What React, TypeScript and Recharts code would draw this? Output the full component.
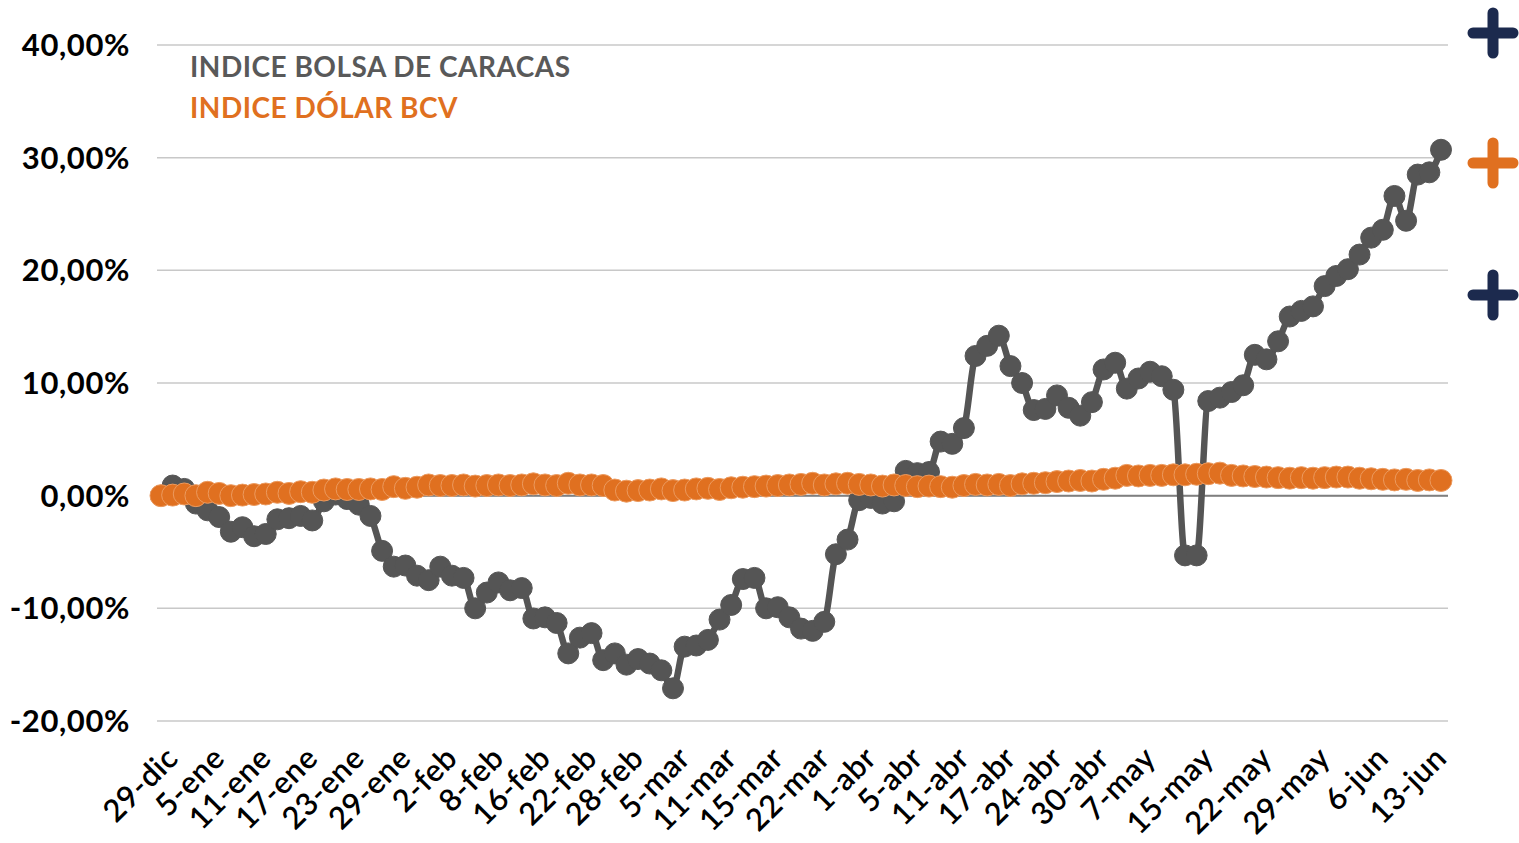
import React from 'react';
import { LineChart, Line, XAxis, YAxis, CartesianGrid, ReferenceLine } from 'recharts';

const dates = [
  '29-dic',
  '2-ene', '3-ene', '4-ene', '5-ene',
  '8-ene', '9-ene', '10-ene', '11-ene',
  '12-ene', '15-ene', '16-ene', '17-ene',
  '18-ene', '19-ene', '22-ene', '23-ene',
  '24-ene', '25-ene', '26-ene', '29-ene',
  '30-ene', '31-ene', '1-feb', '2-feb',
  '5-feb', '6-feb', '7-feb', '8-feb',
  '9-feb', '14-feb', '15-feb', '16-feb',
  '19-feb', '20-feb', '21-feb', '22-feb',
  '23-feb', '26-feb', '27-feb', '28-feb',
  '29-feb', '1-mar', '4-mar', '5-mar',
  '6-mar', '7-mar', '8-mar', '11-mar',
  '12-mar', '13-mar', '14-mar', '15-mar',
  '18-mar', '20-mar', '21-mar', '22-mar',
  '25-mar', '26-mar', '27-mar', '1-abr',
  '2-abr', '3-abr', '4-abr', '5-abr',
  '8-abr', '9-abr', '10-abr', '11-abr',
  '12-abr', '15-abr', '16-abr', '17-abr',
  '18-abr', '22-abr', '23-abr', '24-abr',
  '25-abr', '26-abr', '29-abr', '30-abr',
  '2-may', '3-may', '6-may', '7-may',
  '8-may', '9-may', '10-may', '14-may', '15-may',
  '16-may', '17-may', '20-may', '21-may', '22-may',
  '23-may', '24-may', '27-may', '28-may', '29-may',
  '30-may', '31-may', '4-jun', '5-jun', '6-jun',
  '7-jun', '10-jun', '11-jun', '12-jun', '13-jun',
  '14-jun',
];

const shownLabels = [
  '29-dic', '5-ene', '11-ene', '17-ene', '23-ene', '29-ene', '2-feb', '8-feb', '16-feb',
  '22-feb', '28-feb', '5-mar', '11-mar', '15-mar', '22-mar', '1-abr', '5-abr', '11-abr',
  '17-abr', '24-abr', '30-abr', '7-may', '15-may', '22-may', '29-may', '6-jun', '13-jun',
];

const bolsa = [
  0, 0.9, 0.6, -0.7, -1.3, -1.9, -3.2, -2.8, -3.6, -3.4,
  -2.1, -2.0, -1.8, -2.2, -0.5, 0.1, -0.3, -0.8, -1.8, -4.9,
  -6.3, -6.2, -7.1, -7.5, -6.3, -7.1, -7.3, -10.0, -8.6, -7.7,
  -8.4, -8.2, -10.9, -10.8, -11.3, -14.0, -12.6, -12.2, -14.6, -14.0,
  -15.0, -14.5, -14.9, -15.5, -17.1, -13.4, -13.3, -12.8, -11.0, -9.7,
  -7.4, -7.3, -10.0, -9.9, -10.8, -11.8, -12.0, -11.2, -5.2, -3.9,
  -0.4, -0.2, -0.7, -0.5, 2.2, 2.0, 2.1, 4.8, 4.6, 6.0,
  12.4, 13.3, 14.2, 11.5, 10.0, 7.6, 7.7, 8.9, 7.8, 7.1,
  8.3, 11.2, 11.8, 9.5, 10.4, 11.0, 10.6, 9.4, -5.3, -5.3,
  8.4, 8.7, 9.2, 9.8, 12.5, 12.1, 13.7, 15.9, 16.4, 16.8,
  18.6, 19.5, 20.1, 21.4, 22.9, 23.6, 26.6, 24.4, 28.5, 28.7,
  30.7,
];

const dolar = [
  0.0, 0.05, 0.15, 0.0, 0.3, 0.2, 0.0, 0.05, 0.1, 0.15,
  0.3, 0.2, 0.35, 0.3, 0.5, 0.6, 0.55, 0.55, 0.6, 0.55,
  0.8, 0.65, 0.75, 0.95, 0.9, 0.9, 0.95, 0.85, 0.9, 0.95,
  0.9, 0.95, 1.05, 0.95, 0.9, 1.1, 0.95, 0.95, 0.9, 0.5,
  0.4, 0.45, 0.5, 0.6, 0.45, 0.5, 0.6, 0.65, 0.55, 0.7,
  0.75, 0.8, 0.85, 0.9, 0.95, 1.0, 1.1, 0.95, 1.05, 1.1,
  1.0, 0.95, 0.85, 0.95, 0.9, 0.8, 0.85, 0.8, 0.75, 0.9,
  1.0, 0.95, 1.0, 0.9, 1.05, 1.1, 1.15, 1.25, 1.3, 1.35,
  1.3, 1.45, 1.55, 1.8, 1.75, 1.8, 1.8, 1.85, 1.85, 1.9,
  1.95, 2.0, 1.8, 1.75, 1.7, 1.65, 1.6, 1.55, 1.6, 1.55,
  1.6, 1.65, 1.65, 1.55, 1.5, 1.45, 1.4, 1.45, 1.35, 1.4,
  1.35,
];

const yTicks = [-20, -10, 0, 10, 20, 30, 40];

const seriesNames = ['INDICE BOLSA DE CARACAS', 'INDICE DÓLAR BCV'];
const GRAY = '#555555';
const ORANGE = '#E07020';
const NAVY = '#1C2A4E';
const FONT = "Lato, 'Open Sans', sans-serif";

const data = dates.map((d, i) => ({ date: d, bolsa: bolsa[i], dolar: dolar[i] }));

const fmtPct = (v: number) => v.toFixed(2).replace('.', ',') + '%';

const XTick = (props: any) => {
  const { x, y, payload } = props;
  if (!shownLabels.includes(payload.value)) return <g />;
  const ax = x + 19;
  const ay = y + 39;
  return (
    <text
      x={ax}
      y={ay}
      textAnchor="end"
      transform={`rotate(-45 ${ax} ${ay})`}
      fontSize={31}
      fontWeight={600}
      letterSpacing={0.5}
      fontFamily={FONT}
      fill="#000"
    >
      {payload.value}
    </text>
  );
};

const Plus = ({ cx, cy, color }: { cx: number; cy: number; color: string }) => (
  <g stroke={color} strokeWidth={11} strokeLinecap="round">
    <line x1={cx - 20} y1={cy} x2={cx + 20} y2={cy} />
    <line x1={cx} y1={cy - 20} x2={cx} y2={cy + 20} />
  </g>
);

export default function App() {
  return (
    <div style={{ position: 'absolute', left: 0, top: 0, width: 1519, height: 843, background: '#fff', overflow: 'hidden' }}>
      <LineChart
        width={1519}
        height={843}
        data={data}
        margin={{ top: 45, right: 71, left: 0, bottom: 0 }}
      >
        <CartesianGrid vertical={false} stroke="#c8c8c8" strokeWidth={1.5} />
        <XAxis
          dataKey="date"
          interval={0}
          height={122}
          tick={<XTick />}
          tickSize={0}
          tickMargin={0}
          axisLine={false}
          tickLine={false}
          padding={{ left: 4, right: 7 }}
        />
        <YAxis
          domain={[-20, 40]}
          ticks={yTicks}
          width={157}
          tickSize={0}
          tickMargin={27}
          axisLine={false}
          tickLine={false}
          tickFormatter={fmtPct}
          tick={{ fontSize: 31, fontWeight: 700, fill: '#000', fontFamily: FONT, letterSpacing: 0.6 }}
        />
        <ReferenceLine y={0} stroke="#7f7f7f" strokeWidth={2} />
        <Line
          dataKey="bolsa"
          name={seriesNames[0]}
          type="monotone"
          stroke={GRAY}
          strokeWidth={6.5}
          dot={{ r: 10.5, fill: GRAY, stroke: GRAY, strokeWidth: 1 }}
          activeDot={false}
          isAnimationActive={false}
        />
        <Line
          dataKey="dolar"
          name={seriesNames[1]}
          type="monotone"
          stroke={ORANGE}
          strokeWidth={6}
          dot={{ r: 11, fill: ORANGE, stroke: '#EC9A5E', strokeWidth: 1 }}
          activeDot={false}
          isAnimationActive={false}
        />
      </LineChart>
      <svg width={1519} height={843} style={{ position: 'absolute', left: 0, top: 0, pointerEvents: 'none' }}>
        <text x={190} y={77} fontSize={28} fontWeight={700} letterSpacing={0.5} fill="#595959" fontFamily={FONT}>
          {seriesNames[0]}
        </text>
        <text x={190} y={118} fontSize={28} fontWeight={700} letterSpacing={0.5} fill={ORANGE} fontFamily={FONT}>
          {seriesNames[1]}
        </text>
        <Plus cx={1493} cy={33} color={NAVY} />
        <Plus cx={1493} cy={163} color={ORANGE} />
        <Plus cx={1493} cy={295} color={NAVY} />
      </svg>
    </div>
  );
}
